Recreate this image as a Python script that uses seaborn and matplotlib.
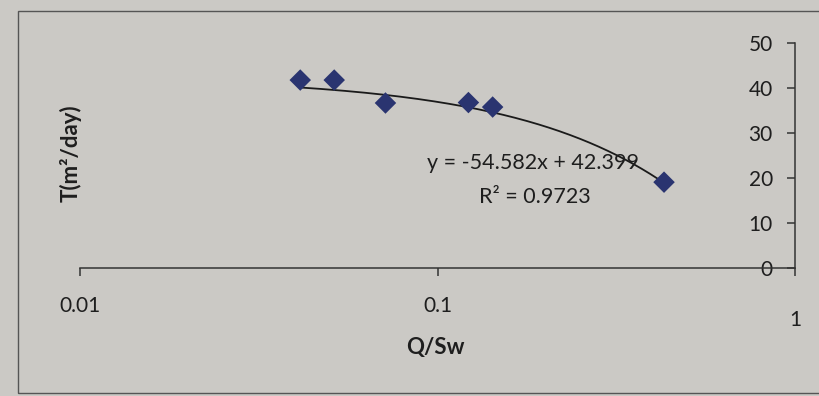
import numpy as np
import pandas as pd
import matplotlib
matplotlib.use("Agg")
import matplotlib.pyplot as plt
import matplotlib.transforms as mtrans
from matplotlib.patches import Rectangle
import seaborn as sns

# 数据
q_sw = [0.0413, 0.0514, 0.0715, 0.122, 0.1426, 0.43]
t_vals = [41.8, 41.8, 36.7, 36.8, 35.8, 19.1]
slope, intercept = -54.582, 42.399
eq_text = "y = -54.582x + 42.399"
r2_text = "R² = 0.9723"
x_ticks = [0.01, 0.1, 1]
x_tick_labels = ["0.01", "0.1", "1"]
y_ticks = [0, 10, 20, 30, 40, 50]

sns.set_style("white")
plt.rcParams['font.family'] = ['Lato', 'DejaVu Sans']

bg = "#cbc9c5"
txt = "#1e1e1e"
fig = plt.figure(figsize=(8.2, 3.96), dpi=100, facecolor=bg)
ax = fig.add_axes([0.0976, 0.323, 0.872, 0.568])
ax.set_facecolor("none")

df = pd.DataFrame({"Q/Sw": q_sw, "T": t_vals})

# 线性趋势线（按图中方程画在对数坐标上）
xs = np.linspace(min(q_sw), max(q_sw), 200)
trend = pd.DataFrame({"x": xs, "y": slope * xs + intercept})
sns.lineplot(data=trend, x="x", y="y", color="#1a1a1a", linewidth=1.3, ax=ax)

sns.scatterplot(data=df, x="Q/Sw", y="T", marker="D", s=120, color="#2a3470",
                edgecolor="none", ax=ax, zorder=3)

ax.set_xscale("log")
ax.set_xlim(0.01, 1)
ax.set_ylim(0, 50)
ax.set_xticks(x_ticks)
ax.set_xticklabels(x_tick_labels)
ax.minorticks_off()
ax.set_yticks(y_ticks)

for s in ["top", "right"]:
    ax.spines[s].set_visible(False)
ax.spines["left"].set_position(("data", 1))
for s in ["left", "bottom"]:
    ax.spines[s].set_color("#333333")
    ax.spines[s].set_linewidth(1.1)

ax.tick_params(axis="both", direction="out", length=6, width=1.1, color="#333333",
               labelsize=15, labelcolor=txt, bottom=True, left=True)
ax.tick_params(axis="x", pad=14)
ax.tick_params(axis="y", pad=10)

# "1" 标签稍低
lbl = ax.get_xticklabels()[-1]
lbl.set_transform(lbl.get_transform() + mtrans.ScaledTranslation(0, -10 / 72, fig.dpi_scale_trans))

ax.set_xlabel("")
ax.set_ylabel("")
fig.text(0.531, 0.123, "Q/Sw", ha="center", va="center", fontsize=16,
         fontweight="bold", color=txt)
fig.text(0.086, 0.614, "T(m²/day)", ha="center", va="center", rotation=90,
         fontsize=16, fontweight="bold", color=txt)

fig.text(0.65, 0.588, eq_text, ha="center", va="center", fontsize=15.5, color=txt)
fig.text(0.652, 0.502, r2_text, ha="center", va="center", fontsize=15.5, color=txt)

# 图表外框
fig.patches.append(Rectangle((18 / 820, 3 / 396), 1.2, (393 - 11) / 396,
                             transform=fig.transFigure, fill=False,
                             edgecolor="#555555", linewidth=1.0))

fig.savefig("out.png", dpi=100, facecolor=bg)
